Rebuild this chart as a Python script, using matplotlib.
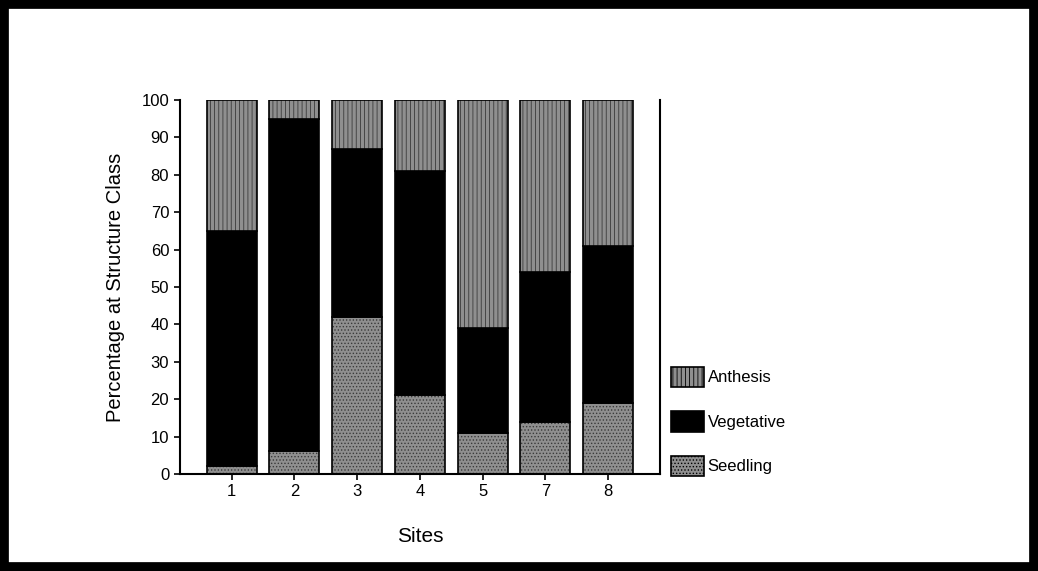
"""
plot.py - stacked percentage bars of plant structure class by site.
"""
import matplotlib
matplotlib.use("Agg")
import matplotlib.pyplot as plt
from matplotlib.patches import Patch, Rectangle
import numpy as np

plt.rcParams["font.family"] = ["Liberation Sans", "DejaVu Sans"]
plt.rcParams["hatch.linewidth"] = 0.6

# ── Data ──────────────────────────────────────────────────────────────────────
sites      = ["1", "2", "3", "4", "5", "7", "8"]
seedling   = [2, 6, 42, 21, 11, 14, 19]
vegetative = [63, 89, 45, 60, 28, 40, 42]
anthesis   = [35, 5, 13, 19, 61, 46, 39]

GREY   = "#8f8f8f"
styles = {
    "Seedling":   dict(color=GREY,    hatch="....."),
    "Vegetative": dict(color="black", hatch=None),
    "Anthesis":   dict(color=GREY,    hatch="||||"),
}

fig = plt.figure(figsize=(10.38, 5.71), dpi=100)
ax = fig.add_axes([0.173, 0.170, 0.463, 0.655])

x = np.arange(len(sites))
bottom = np.zeros(len(sites))
for name, vals in (("Seedling", seedling), ("Vegetative", vegetative),
                   ("Anthesis", anthesis)):
    st = styles[name]
    # fill + hatch, then a crisp black outline on top
    ax.bar(x, vals, width=0.8, bottom=bottom, color=st["color"],
           hatch=st["hatch"], edgecolor="#3a3a3a", linewidth=0)
    ax.bar(x, vals, width=0.8, bottom=bottom, fill=False,
           edgecolor="black", linewidth=1.2)
    bottom += np.array(vals)

ax.set_xlim(-0.83, len(sites) - 0.17)
ax.set_ylim(0, 100)
ax.set_yticks(range(0, 101, 10))
ax.set_xticks(x)
ax.set_xticklabels(sites)
ax.tick_params(axis="both", direction="out", length=4, width=1.2,
               labelsize=12, colors="black")
for side in ("left", "bottom", "right"):
    ax.spines[side].set_linewidth(1.5)
ax.spines["top"].set_visible(False)

ax.set_ylabel("Percentage at Structure Class", fontsize=14.5, labelpad=12)
ax.set_xlabel("Sites", fontsize=15, labelpad=20)

# ── Legend ────────────────────────────────────────────────────────────────────
handles = []
for name in ("Anthesis", "Vegetative", "Seedling"):
    st = styles[name]
    handles.append(Patch(facecolor=st["color"], hatch=st["hatch"],
                         edgecolor="black", linewidth=1.2, label=name))
fig.legend(handles=handles, loc="lower left", bbox_to_anchor=(0.632, 0.14),
           frameon=False, fontsize=12, labelspacing=1.45, handlelength=2.0,
           handleheight=1.5, handletextpad=0.2)

# ── Heavy frame round the whole figure ───────────────────────────────────────
fig.patches.append(Rectangle((0.004, 0.007), 0.992, 0.986,
                             transform=fig.transFigure, fill=False,
                             edgecolor="black", linewidth=7))

fig.savefig("out.png", dpi=100)
